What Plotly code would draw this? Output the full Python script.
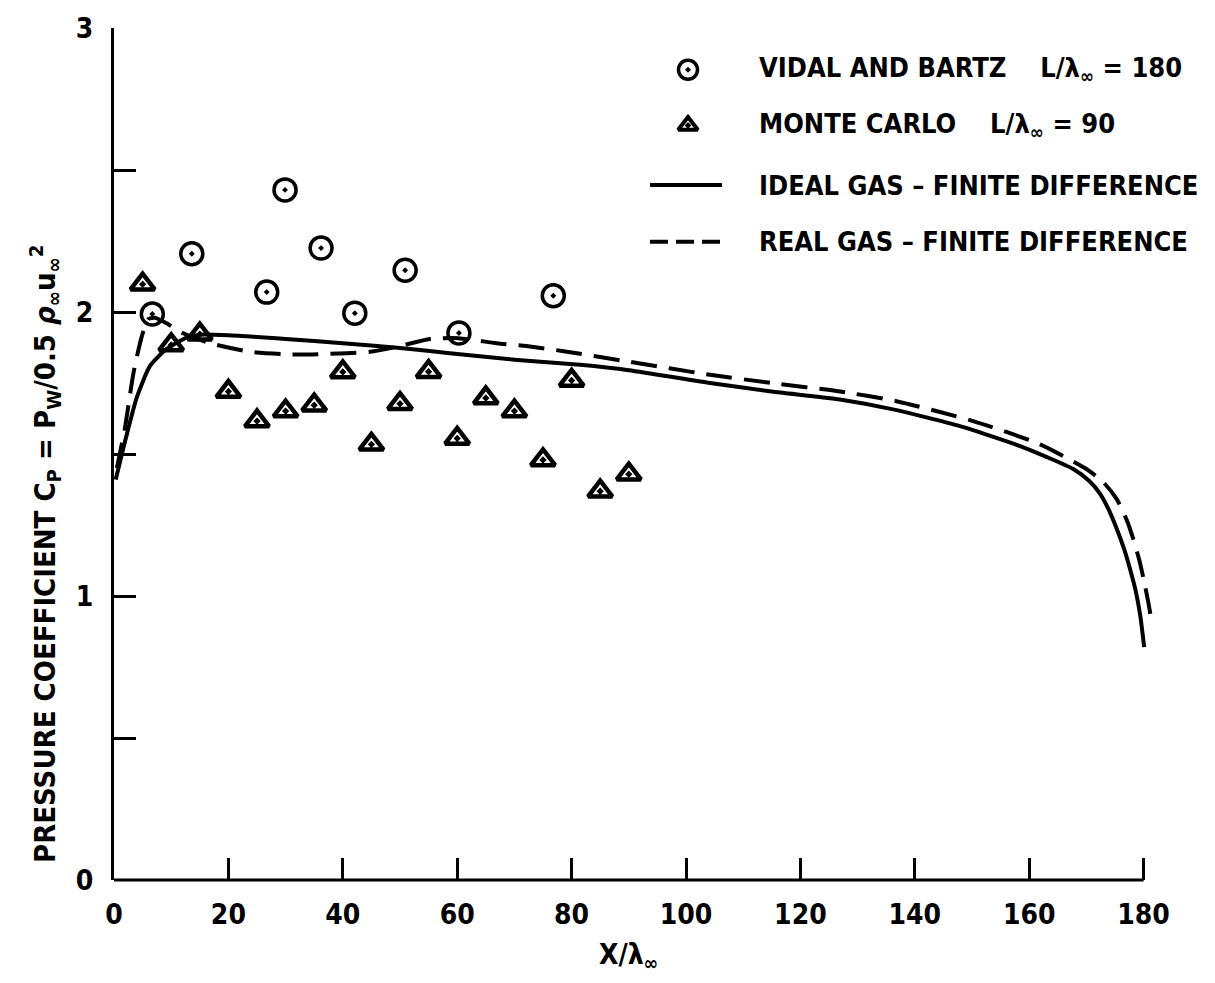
import plotly.graph_objects as go

# ---- data ----
vb_x = [6.7, 13.6, 26.7, 29.9, 36.2, 42.1, 50.9, 60.3, 76.8]
vb_y = [1.993, 2.205, 2.07, 2.43, 2.225, 1.996, 2.147, 1.926, 2.057]

mc_x = [5, 10, 15, 20, 25, 30, 35, 40, 45, 50, 55, 60, 65, 70, 75, 80, 85, 90]
mc_y = [2.098, 1.884, 1.922, 1.72, 1.616, 1.651, 1.672, 1.789, 1.534, 1.677,
        1.79, 1.555, 1.697, 1.651, 1.479, 1.759, 1.369, 1.429]

ideal_x = [0.3, 2, 4, 6.3, 9.2, 12.7, 15, 20, 30, 40, 50, 58.7, 70, 81.5, 90,
           104.2, 115, 126.9, 136.2, 147.9, 158.4, 163, 167.7, 170.5, 172.4,
           174, 175.3, 176.6, 177.6, 178.6, 179.4, 180.1]
ideal_y = [1.41, 1.55, 1.70, 1.81, 1.87, 1.91, 1.92, 1.918, 1.905, 1.89, 1.873,
           1.855, 1.832, 1.814, 1.795, 1.75, 1.72, 1.692, 1.657, 1.598, 1.528,
           1.49, 1.447, 1.405, 1.36, 1.30, 1.237, 1.165, 1.097, 1.02, 0.933, 0.82]

real_x = [0.5, 1.9, 3.4, 4.8, 6.0, 7.2, 9.2, 12.1, 16.8, 23.8, 31.9, 40.7, 44.8,
          50, 55.2, 60.2, 66.9, 72.1, 78.6, 90, 104.2, 115, 126.9, 136.8, 150.2,
          161.9, 170, 173, 175.3, 177, 178.2, 179.2, 180, 180.8, 181.4]
real_y = [1.45, 1.59, 1.785, 1.91, 1.975, 1.98, 1.96, 1.925, 1.89, 1.86, 1.85,
          1.855, 1.86, 1.88, 1.905, 1.908, 1.89, 1.88, 1.862, 1.825, 1.779, 1.75,
          1.72, 1.686, 1.616, 1.534, 1.447, 1.40, 1.341, 1.27, 1.20, 1.13, 1.06,
          0.98, 0.91]

x_ticks = [0, 20, 40, 60, 80, 100, 120, 140, 160, 180]
y_ticks = [0, 0.5, 1, 1.5, 2, 2.5, 3]
y_ticktext = ["0", "", "1", "", "2", "", "3"]

legend_labels = [
    "VIDAL AND BARTZ\u00a0\u00a0\u00a0\u00a0L/λ<sub>∞</sub> = 180",
    "MONTE CARLO\u00a0\u00a0\u00a0\u00a0L/λ<sub>∞</sub> = 90",
    "IDEAL GAS – FINITE DIFFERENCE",
    "REAL GAS – FINITE DIFFERENCE",
]

FONT = "DejaVu Sans Condensed, Liberation Sans Narrow, Arial Narrow, sans-serif"
INK = "#000000"
FS = 27

def tf(size=FS):
    return dict(family=FONT, size=size, color=INK, weight="bold")

fig = go.Figure()

fig.add_trace(go.Scatter(x=ideal_x, y=ideal_y, mode="lines",
                         line=dict(color=INK, width=4, shape="spline", smoothing=0.6),
                         showlegend=False))
fig.add_trace(go.Scatter(x=real_x, y=real_y, mode="lines",
                         line=dict(color=INK, width=4, dash="26px,12px",
                                   shape="spline", smoothing=0.6),
                         showlegend=False))
fig.add_trace(go.Scatter(x=vb_x, y=vb_y, mode="markers",
                         marker=dict(symbol="circle-open-dot", size=22, color=INK,
                                     line=dict(width=3.5, color=INK)),
                         showlegend=False))
fig.add_trace(go.Scatter(x=mc_x, y=mc_y, mode="markers",
                         marker=dict(symbol="triangle-up-open-dot", size=21, color=INK,
                                     line=dict(width=4.5, color=INK)),
                         showlegend=False))

# ---- legend (hand-placed key, in plot-area fractions) ----
L = 114.0; T = 23.0; W = 1041.0; H = 857.0
def fx(px):
    return (px - L) / W
def fy(py):
    return (T + H - py) / H

row_y = [65, 121, 181, 238]
fig.add_trace(go.Scatter(x=[fx(688)], y=[fy(row_y[0])], xaxis="x2", yaxis="y2",
                         mode="markers", showlegend=False,
                         marker=dict(symbol="circle-open-dot", size=19, color=INK,
                                     line=dict(width=3.5, color=INK))))
fig.add_trace(go.Scatter(x=[fx(688)], y=[fy(row_y[1])], xaxis="x2", yaxis="y2",
                         mode="markers", showlegend=False,
                         marker=dict(symbol="triangle-up-open-dot", size=17, color=INK,
                                     line=dict(width=4, color=INK))))
fig.add_trace(go.Scatter(x=[fx(650), fx(722)], y=[fy(row_y[2])] * 2, xaxis="x2", yaxis="y2",
                         mode="lines", showlegend=False,
                         line=dict(color=INK, width=4)))
fig.add_trace(go.Scatter(x=[fx(650), fx(722)], y=[fy(row_y[3])] * 2, xaxis="x2", yaxis="y2",
                         mode="lines", showlegend=False,
                         line=dict(color=INK, width=4, dash="18px,8px")))

for lab, ry in zip(legend_labels, row_y):
    fig.add_annotation(x=fx(757), y=fy(ry), xref="paper", yref="paper",
                       text=lab, showarrow=False, xanchor="left", yanchor="middle",
                       font=tf(27))

# axis titles
fig.add_annotation(x=fx(45), y=fy(552), xref="paper", yref="paper",
                   text="PRESSURE COEFFICIENT C<sub>P</sub> = P<sub>W</sub>/0.5 <i>ρ</i><sub>∞</sub>u<sub>∞</sub><sup>2</sup>",
                   textangle=-90, showarrow=False, xanchor="center", yanchor="middle",
                   font=tf(29))
fig.add_annotation(x=fx(628), y=fy(957), xref="paper", yref="paper",
                   text="X/λ<sub>∞</sub>", showarrow=False,
                   xanchor="center", yanchor="middle", font=tf(28))

# x-axis baseline drawn only up to the last tick (as in the reference)
fig.add_shape(type="line", xref="x", yref="paper", x0=x_ticks[0], x1=x_ticks[-1],
              y0=0, y1=0, line=dict(color=INK, width=3))

fig.update_layout(
    width=1215, height=983,
    margin=dict(l=114, r=1215 - 114 - 1041, t=23, b=983 - 23 - 857),
    paper_bgcolor="white", plot_bgcolor="white",
    font=dict(family=FONT, color=INK),
    xaxis=dict(range=[0, 1041 / 5.72], tickvals=x_ticks, ticks="inside", ticklen=22,
               tickwidth=2.5, tickcolor=INK, showline=False,
               showgrid=False, zeroline=False, ticklabelstandoff=15,
               tickfont=tf(28)),
    yaxis=dict(range=[0, 3], tickvals=y_ticks, ticktext=y_ticktext, ticks="inside",
               ticklen=22, tickwidth=2.5, tickcolor=INK, showline=True, linewidth=3,
               linecolor=INK, showgrid=False, zeroline=False, ticklabelstandoff=12,
               tickfont=tf(28)),
    xaxis2=dict(range=[0, 1], overlaying="x", visible=False),
    yaxis2=dict(range=[0, 1], overlaying="y", visible=False),
)

fig.write_html("out.html")
